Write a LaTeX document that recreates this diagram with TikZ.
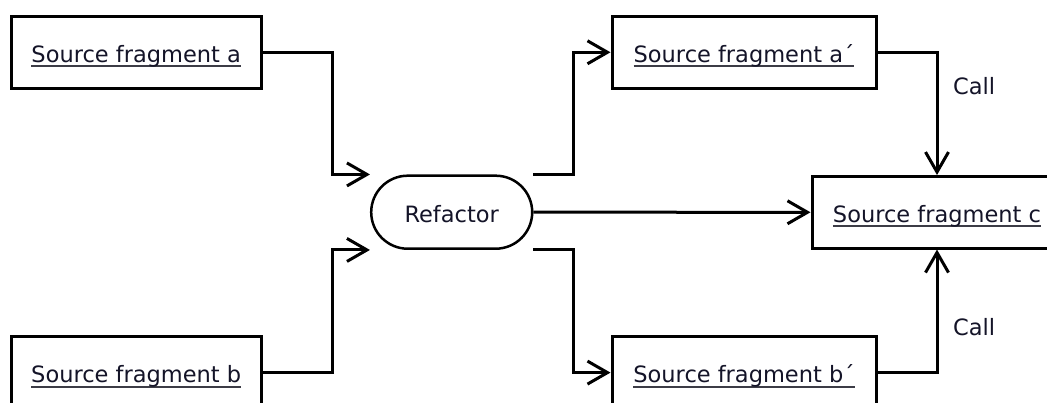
\documentclass[tikz,border=0pt]{standalone}
\usepackage{fontspec}
\setmainfont{DejaVu Sans}
\usetikzlibrary{arrows.meta}
\definecolor{ink}{HTML}{141428}
\definecolor{ulgray}{HTML}{3C3C46}
\newsavebox\ulbox
% underlined, link-like text
\newcommand\linktext[1]{\sbox\ulbox{#1}\rlap{\color{ulgray}\rule[-5pt]{\wd\ulbox}{1.8pt}}\usebox\ulbox}
\newcommand\diagfont{\fontsize{22.5}{27}\selectfont}
\begin{document}
\begin{tikzpicture}[x=1pt,y=-1pt,
  frag/.style={draw, line width=3pt, rectangle, minimum height=71.5pt, inner sep=0pt,
    text height=36pt, text depth=16pt, font=\diagfont, text=ink},
  proc/.style={draw, line width=2.5pt, rectangle, rounded corners=36.5pt,
    minimum width=161pt, minimum height=73pt, inner sep=0pt,
    text height=36pt, text depth=16pt, font=\diagfont, text=ink},
  conn/.style={line width=3pt, -{Straight Barb[length=20pt,width=23pt,line width=3pt]}},
  lbl/.style={font=\diagfont, text=ink, inner sep=0pt, anchor=base west}]
\useasboundingbox (0,0) rectangle (1047,403);
\fill[white] (0,0) rectangle (1047,403);
\clip (0,0) rectangle (1047,403);

% fragments and the refactoring step
\node[frag, minimum width=250pt] (fa) at (136.2,52.3) {\linktext{Source fragment a}};
\node[frag, minimum width=250pt] (fb) at (136.2,372.6) {\linktext{Source fragment b}};
\node[proc] (ref) at (451.7,212.2) {Refactor};
\node[frag, minimum width=264pt] (fap) at (744,52.3) {\linktext{Source fragment a´}};
\node[frag, minimum width=264pt] (fbp) at (744,372.6) {\linktext{Source fragment b´}};
\node[frag, minimum width=250pt] (fc) at (937,212.3) {\linktext{Source fragment c}};

% routing columns
\coordinate (jl) at (332,0);
\coordinate (jr) at (573,0);

% connectors
\draw[conn] (fa.east) -| (jl |- ref.north) -- (ref.west |- ref.north);
\draw[conn] (fb.east) -| (jl |- ref.south) -- (ref.west |- ref.south);
\draw[conn] (ref.east |- ref.north) -| (jr |- fap.west) -- (fap.west);
\draw[conn] (ref.east |- ref.south) -| (jr |- fbp.west) -- (fbp.west);
\draw[conn] (ref.east) -- (fc.west);
\draw[conn] (fap.east) -| (fc.north);
\draw[conn] (fbp.east) -| (fc.south);

% call labels
\node[lbl] (call1) at (953,95) {Call};
\node[lbl] (call2) at (953,336) {Call};
\end{tikzpicture}
\end{document}
